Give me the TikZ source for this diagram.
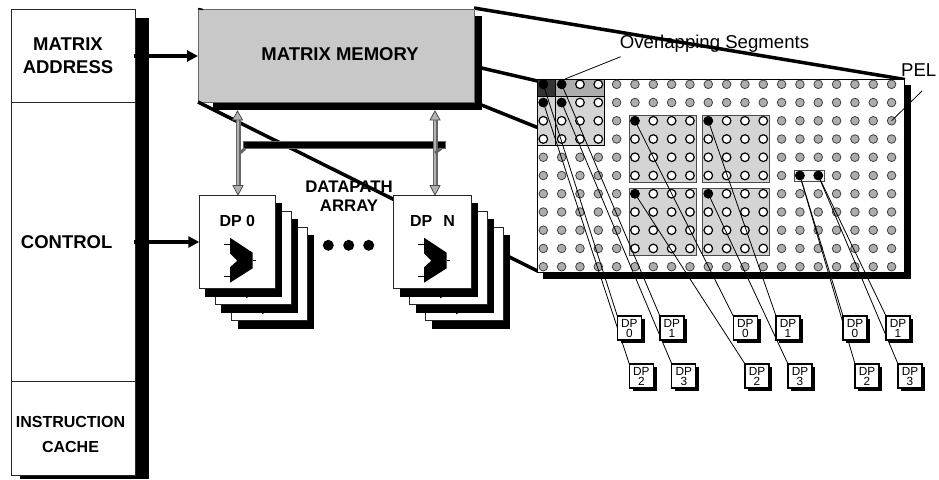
\documentclass[tikz,border=0pt]{standalone}
\usepackage{fontspec}
\setmainfont{Liberation Sans}
\usetikzlibrary{arrows.meta,shadows}
\pgfdeclarelayer{top}
\pgfsetlayers{main,top}
\definecolor{memgray}{gray}{0.785}
\definecolor{seggray}{gray}{0.83}
\definecolor{pelgray}{gray}{0.68}
\tikzset{
  x=1pt,y=-1pt,
  every node/.style={inner sep=0pt,outer sep=0pt},
  boldA/.style={font=\fontsize{18.5}{23}\selectfont\bfseries,align=center},
  boldB/.style={font=\fontsize{16}{19}\selectfont\bfseries,align=center},
  plainT/.style={font=\fontsize{18.6}{20}\selectfont},
  panel/.style={draw=black!85,line width=0.8pt,fill=white,anchor=north west},
  stackbox/.style={panel,minimum height=93pt},
  sh/.style={fill=black},
  thickwire/.style={line width=3.5pt,black},
  ctrlarrow/.style={line width=3.4pt,-{Triangle[length=11pt,width=11pt]}},
  thinwire/.style={line width=0.8pt,black},
  pelg/.style={circle,minimum size=8.6pt,draw=black!75,line width=0.8pt,fill=pelgray},
  pelw/.style={circle,minimum size=8.6pt,draw=black,line width=1.2pt,fill=white},
  pelb/.style={circle,minimum size=9pt,draw=black,line width=0.8pt,fill=black},
  segblock/.style={draw=black!70,line width=1pt,fill=seggray},
  tinydp/.style={draw=black,line width=1.2pt,fill=white,minimum width=24pt,minimum height=24pt,anchor=north west,
     align=center,font=\fontsize{11.8}{10}\selectfont,
     drop shadow={shadow xshift=3.2pt,shadow yshift=-3.2pt,fill=black,opacity=1}},
  busshaft/.style={line width=5pt,black!60},
  businner/.style={line width=2.6pt,black!30},
  bushead/.style={draw=black!70,line width=0.8pt,fill=black!30},
  dot/.style={circle,fill=black,minimum size=11pt},
  mux/.pic={
    \fill[black] (30.7,42.4) -- (53.4,57.4) -- (53.4,73) -- (30.7,87.4) -- (30.7,72) -- (38,65.4) -- (30.7,58) -- cycle;
    \draw[black,line width=0.8pt] (24.7,49) -- (30.7,49) (24.7,81.4) -- (30.7,81.4) (53.4,65.4) -- (57,65.4);
  }
}
\begin{document}
\begin{tikzpicture}
\useasboundingbox (0,0) rectangle (939,479);
\fill[white] (0,0) rectangle (939,479);

% left column
\fill[sh] (20,18) rectangle (149,479);
\node[panel,minimum width=124pt,minimum height=93pt] (addr) at (11,9) {};
\node[panel,minimum width=124pt,minimum height=279pt] (ctrl) at (11,102) {};
\node[panel,minimum width=124pt,minimum height=94pt] (cache) at (11,381) {};
\node[boldA] (addrT) at (68,55.5) {MATRIX\\ADDRESS};
\node[boldA] (ctrlT) at (66.7,241.7) {CONTROL};
\node[boldB,font=\fontsize{16}{25}\selectfont\bfseries] (cacheT) at (70.5,434.5) {INSTRUCTION\\CACHE};

% thick perspective lines
\coordinate (memTR) at (474,8);
\coordinate (gridTR) at (905,79.5);
\coordinate (memR1) at (481.5,68);
\coordinate (gridL1) at (537.5,81);
\coordinate (memR2) at (481.5,105);
\coordinate (gridL2) at (537.5,127.5);
\coordinate (memBL) at (198,102);
\coordinate (gridBL) at (537.5,271);
\draw[thickwire] (memTR) -- (gridTR);
\draw[thickwire] (memR1) -- (gridL1);
\draw[thickwire] (memR2) -- (gridL2);

% matrix memory
\fill[sh] (213,16) rectangle (481.5,110);
\node[draw=black!60,line width=0.8pt,fill=memgray,anchor=north west,minimum width=276pt,minimum height=93pt] (mem) at (198,9) {};
\node[boldA] (memT) at (340,54) {MATRIX MEMORY};
\draw[line width=1.5pt] (198,8.5) -- (203,9.5);
\draw[thickwire] (memBL) -- (gridBL);

% shared bus
\node[fill=black,draw=black!60,line width=0.5pt,anchor=north west,minimum width=202pt,minimum height=6.6pt] (bus) at (243.5,141.7) {};
\coordinate (m0) at (238,119);
\coordinate (mN) at (435,119);
\coordinate (d0) at (238,186);
\coordinate (dN) at (435,186);
\foreach \a/\b in {m0/d0,mN/dN}{
  \draw[busshaft] (\a) -- (\b);
  \draw[businner] (\a) -- (\b);
}
\draw[bushead] (237.5,111) -- ++(-5,9) -- ++(10,0) -- cycle;
\draw[bushead] (435,111) -- ++(-5,9) -- ++(10,0) -- cycle;
\draw[bushead] (238,195) -- ++(-5,-9.5) -- ++(10,0) -- cycle;
\draw[bushead] (435,195) -- ++(-5,-9.5) -- ++(10,0) -- cycle;
\draw[line width=3pt,black!60] (240,153) -- (245,148.5);
\draw[line width=3pt,black!60] (435,153) -- (441,148.5);

% DP 0 stack
\fill[sh] (237.5,235) rectangle (314,328.7);
\node[stackbox,minimum width=76pt] (dp0c) at (231.3,227) {};
\pic at (dp0c.north west) {mux};
\fill[sh] (221.3,219) rectangle (298,312.7);
\node[stackbox,minimum width=76pt] (dp0b) at (215.3,211) {};
\pic at (dp0b.north west) {mux};
\fill[sh] (205.3,203) rectangle (281.7,296.7);
\node[stackbox,minimum width=76pt] (dp0a) at (199.3,195.3) {};
\pic at (dp0a.north west) {mux};
\node[boldB] (dp0T) at (237.3,220.5) {DP 0};

% DP N stack
\fill[sh] (432.3,235) rectangle (510,328.7);
\node[stackbox,minimum width=78pt] (dpNc) at (425.3,227) {};
\pic at (dpNc.north west) {mux};
\fill[sh] (416.3,219) rectangle (494,312.7);
\node[stackbox,minimum width=78pt] (dpNb) at (409.3,211) {};
\pic at (dpNb.north west) {mux};
\fill[sh] (400,203) rectangle (477.7,296.7);
\node[stackbox,minimum width=78pt] (dpNa) at (393.3,195.3) {};
\pic at (dpNa.north west) {mux};
\node[boldB] (dpNT) at (432.5,220.5) {DP\hspace{11pt}N};

\node[boldB,font=\fontsize{16.8}{19}\selectfont\bfseries] (dpathT) at (349,196.5) {DATAPATH\\ARRAY};
\node[dot] (dot1) at (328.3,245.3) {};
\node[dot] (dot2) at (348.7,245.3) {};
\node[dot] (dot3) at (368.7,245.3) {};

% control arrows
\draw[ctrlarrow] (133.5,56) -- (mem.west |- 0,56);
\draw[ctrlarrow] (133.5,242) -- (dp0a.west |- 0,242);

% PEL grid
\fill[sh] (543,85) rectangle (910.5,279);
\node[draw=black,line width=1pt,fill=white,anchor=north west,minimum width=367pt,minimum height=193pt] (grid) at (537.5,79) {};

% overlapping segment
\fill[seggray] (537.5,96.7) rectangle (604.6,145.3);
\fill[black!80] (537.5,79) rectangle (555.6,96.7);
\fill[black!32] (555.6,79) rectangle (604.6,96.7);
\draw[black,line width=0.9pt] (537.5,79) rectangle (604.6,145.3);
\draw[black,line width=0.9pt] (537.5,96.7) -- (604.6,96.7) (555.6,79) -- (555.6,145.3);

% segments
\draw[segblock] (629,115) rectangle (696,182.3);
\draw[segblock] (702.3,115) rectangle (769.7,182.3);
\draw[segblock] (629,188.3) rectangle (696,255);
\draw[segblock] (702.3,188.3) rectangle (769.7,255);
\draw[draw=black!70,line width=1pt,fill=black!5] (794,170) rectangle (824.7,181.7);

% PELs
\foreach \c in {0,...,19}{
  \foreach \r in {0,...,10}{
    \pgfmathtruncatemacro\isw{((\c<=3 && \r<=3) || (\c>=5 && \c<=12 && \r>=2 && \r<=9)) ? 1 : 0}
    \pgfmathtruncatemacro\isb{((\c<=1 && \r<=1) || ((\r==2 || \r==6) && (\c==5 || \c==9)) || (\r==5 && (\c==14 || \c==15))) ? 1 : 0}
    \ifnum\isb=1 \def\st{pelb}\else\ifnum\isw=1 \def\st{pelw}\else\def\st{pelg}\fi\fi
    \node[\st] (p-\c-\r) at ({543.3+18.33*\c},{84.3+18.24*\r}) {};
  }
}

% DP tags and labels on top
\begin{pgfonlayer}{top}
\node[tinydp] (a0) at (617.3,316) {DP\\0};
\node[tinydp] (a1) at (659.9,316) {DP\\1};
\node[tinydp] (a2) at (629.3,364) {DP\\2};
\node[tinydp] (a3) at (671.8,364) {DP\\3};
\node[tinydp] (b0) at (733.3,316) {DP\\0};
\node[tinydp] (b1) at (776,316) {DP\\1};
\node[tinydp] (b2) at (745,364) {DP\\2};
\node[tinydp] (b3) at (788,364) {DP\\3};
\node[tinydp] (c0) at (843,316) {DP\\0};
\node[tinydp] (c1) at (886,316) {DP\\1};
\node[tinydp] (c2) at (855,364) {DP\\2};
\node[tinydp] (c3) at (898,364) {DP\\3};
\node[plainT] (ovT) at (714.5,44) {Overlapping Segments};
\node[plainT] (pelT) at (918.7,70) {PEL};
\end{pgfonlayer}

% wires from PELs to tags
\foreach \p/\t in {0-0/a0,1-0/a1,0-1/a2,1-1/a3,5-2/b0,9-2/b1,5-6/b2,9-6/b3,14-5/c0,15-5/c1,14-5/c2,15-5/c3}{
  \draw[thinwire] (p-\p.center) -- (\t.north west);
}

% leaders
\coordinate (ovL) at (620.7,56.7);
\coordinate (ovE) at (565,79);
\coordinate (pelL) at (922,91);
\draw[thinwire] (ovL) -- (ovE);
\draw[thinwire] (pelL) -- (p-19-2.center);
\end{tikzpicture}
\end{document}
